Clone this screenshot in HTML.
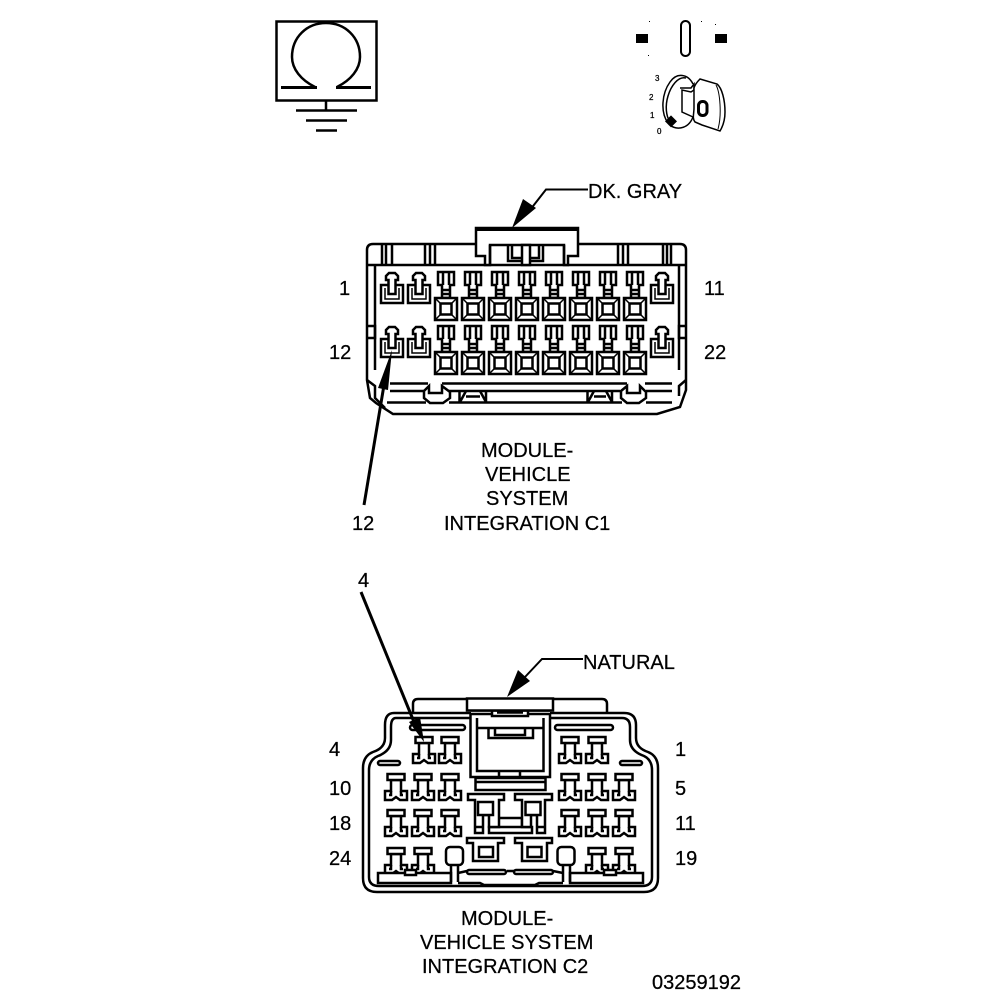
<!DOCTYPE html>
<html>
<head>
<meta charset="utf-8">
<style>
html,body{margin:0;padding:0;background:#fff;width:1008px;height:1000px;overflow:hidden}
svg{display:block}
text{font-family:"Liberation Sans",sans-serif;font-size:20px;fill:#000;stroke:#000;stroke-width:.25px}
.s{fill:none;stroke:#000;stroke-width:2.5}
.t{fill:none;stroke:#000;stroke-width:1.5}
.w{fill:#fff;stroke:#000;stroke-width:2.5}
</style>
</head>
<body>
<svg width="1008" height="1000" viewBox="0 0 1008 1000" xmlns="http://www.w3.org/2000/svg">
<defs>
<g id="big">
  <path class="w" d="M4 0H20V13H16V26H8V13H4Z"/>
  <path class="s" d="M9 0V13M15 0V13M8 18H16M8 22H16" stroke-width="2"/>
  <rect class="w" x="1" y="26" width="22" height="22"/>
  <rect class="s" x="6.500" y="31.500" width="11" height="11"/>
  <path class="t" d="M1 26L6.500 31.500M23 26L17.500 31.500M1 48L6.500 42.500M23 48L17.500 42.500"/>
</g>
<g id="small">
  <path class="w" d="M0 13H22V31H0Z"/>
  <path class="t" d="M4 16V27H18V16"/>
  <path class="w" d="M8 1H14L17 4V8H14.500V22H7.500V8H5V4Z"/>
</g>
<g id="t2">
  <path class="w" d="M-5 6V17H-11V26H-4L0 23L4 26H11V17H5V6Z" stroke-width="3"/>
  <rect class="w" x="-8.500" y="0" width="17" height="6" stroke-width="3"/>
  <path class="s" d="M-5 17V21H-7M5 17V21H7" stroke-width="2"/>
</g>
</defs>

<!-- Ground / ohm symbol -->
<rect x="276.500" y="21.500" width="100" height="79" fill="none" stroke="#000" stroke-width="2.500"/>
<path d="M315 87C301 80 292 69 292 57C292 37 307 23 326 23C345 23 360 37 360 57C360 69 351 80 337 87" fill="none" stroke="#000" stroke-width="2.500"/>
<path d="M281 87.500H317M336 87.500H371" stroke="#000" stroke-width="3" fill="none"/>
<path d="M326 100V110M296 110.500H357M306 120.500H347M316 130.500H337" stroke="#000" stroke-width="2.500" fill="none"/>

<!-- Key switch symbol -->
<rect x="636" y="34" width="12" height="9" fill="#000"/>
<rect x="715" y="34" width="12" height="9" fill="#000"/>
<rect x="681" y="21" width="9" height="35" rx="4.500" fill="#fff" stroke="#000" stroke-width="2"/>
<rect x="649" y="21" width="1" height="1"/><rect x="701" y="21" width="1" height="1"/><rect x="715" y="24" width="1" height="1"/><rect x="648" y="55" width="1" height="1"/>
<path d="M693 84C688 74 677 72 670 82C662 93 660 112 668 123C674 131 688 130 693 117" fill="none" stroke="#000" stroke-width="1.500"/>
<path d="M686 78C678 76 671 86 668 96C665 106 666 116 670 122" fill="none" stroke="#000" stroke-width="1.500"/>
<path d="M680 88H691L694 84V90L691 92L682 90V112L693 117" fill="none" stroke="#000" stroke-width="1.500"/>
<path d="M694 88C695 84 698 81 700 79L717 84C722 88 725 100 725 112C725 120 723 126 720 131L702 125L695 122C692 118 694 114 694 108Z" fill="#fff" stroke="#000" stroke-width="1.500"/>
<path d="M716 85C720 92 722 115 718 129" fill="none" stroke="#000" stroke-width="1"/>
<rect x="698.500" y="101.500" width="8.500" height="14" rx="4" fill="none" stroke="#000" stroke-width="3"/>
<rect x="667" y="117" width="8.500" height="8.500" fill="#000" transform="rotate(45 671 121)"/>
<text x="655" y="81" style="font-size:8px">3</text>
<text x="649" y="100" style="font-size:8px">2</text>
<text x="650" y="118" style="font-size:8px">1</text>
<text x="657" y="134" style="font-size:8px">0</text>

<!-- C1 connector -->
<path class="s" d="M367 250Q367 244 373 244H680Q686 244 686 250V390L680 407L657 414H393L376 403L370 398L367 380Z"/>
<path class="s" d="M367 265H686M375 265V370M679 265V370M367 380L375 386V398L385 408M686 380L679 386V396"/>
<path class="s" d="M367 326H375V338H367M686 326H679V338H686"/>
<path class="s" d="M382 244V264M386 244V264M392 244V264M425 244V264M430 244V264M435 244V264M618 244V264M623 244V264M628 244V264M663 244V264M667 244V264M671 244V264" stroke-width="2"/>
<path class="w" d="M476 228H578V256H568V265H564V245H490V265H485V256H476Z"/>
<path class="s" d="M490 245V265M564 245V265" />
<path class="s" d="M508 245V261H522M543 245V261H530M512 245V258H522M539 245V258H530" stroke-width="1.500"/>
<rect x="522" y="245" width="8" height="20" class="w"/>
<rect x="476" y="228" width="102" height="3" fill="#000"/>

<use href="#small" x="381" y="272"/>
<use href="#small" x="408" y="272"/>
<use href="#small" x="651" y="272"/>
<use href="#small" x="381" y="326"/>
<use href="#small" x="408" y="326"/>
<use href="#small" x="651" y="326"/>

<use href="#big" x="434" y="272"/><use href="#big" x="461" y="272"/><use href="#big" x="488" y="272"/><use href="#big" x="515" y="272"/><use href="#big" x="542" y="272"/><use href="#big" x="569" y="272"/><use href="#big" x="596" y="272"/><use href="#big" x="623" y="272"/>
<use href="#big" x="434" y="326"/><use href="#big" x="461" y="326"/><use href="#big" x="488" y="326"/><use href="#big" x="515" y="326"/><use href="#big" x="542" y="326"/><use href="#big" x="569" y="326"/><use href="#big" x="596" y="326"/><use href="#big" x="623" y="326"/>

<path class="s" d="M390 383.500H428M442 383.500H627M645 383.500H672" stroke-width="3"/>
<path class="s" d="M390 391H424M448 391H620M646 391H672M387 402.500H426M449 402.500H622M646 402.500H672" stroke-width="2"/>
<path class="w" d="M424 391L429 386V393H442V386L450 392V398L443 403H430L424 398Z" stroke-width="2"/>
<path class="w" d="M621 391L627 386V393H640V386L646 392V398L639 403H627L621 398Z" stroke-width="2"/>
<path class="s" d="M459.500 391V403M486 391V403M587.500 391V403M612 391V403M466 391L460 402M480 391L486 402M594 391L588 402M606 391L612 402M466 396.500H480M594 396.500H606" stroke-width="2"/>

<!-- C1 arrows and labels -->
<path d="M588 189.500H546L530 210" fill="none" stroke="#000" stroke-width="2"/>
<path d="M523 199L536 208L512 228Z" fill="#000"/>
<text x="588" y="198">DK. GRAY</text>
<text x="339" y="295">1</text>
<text x="704" y="295">11</text>
<text x="329" y="359">12</text>
<text x="704" y="359">22</text>
<path d="M364 505L384 385" stroke="#000" stroke-width="3" fill="none"/>
<path d="M378 388L388 390L392 350Z" fill="#000"/>
<text x="352" y="530">12</text>
<text x="481" y="457">MODULE-</text>
<text x="485" y="481">VEHICLE</text>
<text x="486" y="505">SYSTEM</text>
<text x="444" y="530">INTEGRATION C1</text>

<!-- C2 connector -->
<path class="s" d="M413 712V704Q413 699 418 699H602Q607 699 607 704V712" stroke-width="2"/>
<path class="s" d="M394 713H624Q636 713 636 725V738Q636 748 648 752Q658 756 658 768V878Q658 892 644 892H377Q363 892 363 878V768Q363 756 373 752Q385 748 385 738V725Q385 713 394 713Z" stroke-width="3"/>
<path class="s" d="M396 718H622Q630 718 630 727V740Q630 751 644 756Q652 760 652 770V877Q652 886 642 886H379Q369 886 369 877V770Q369 760 378 756Q391 751 391 740V727Q391 718 396 718Z" stroke-width="2"/>
<rect x="471" y="712" width="79" height="65" fill="#fff"/>
<path class="s" d="M470.500 714V777H550V714M477 718V771H543.500V718M477 728H543.500"/>
<path class="s" d="M470 714H492M528 714H550" stroke-width="3"/>
<path class="s" d="M488.500 728V738H533V728M495 729V735H525V729"/>
<path class="s" d="M499 771V777M520 771V777" stroke-width="1.500"/>
<rect x="467" y="698.500" width="86" height="12" class="w" stroke-width="3"/>
<path class="s" d="M492 710V716H528V710M497 712.500H523"/>
<rect x="475.500" y="778" width="70" height="12" class="w"/>
<path class="s" d="M476 782H545" stroke-width="1.500"/>
<rect x="410" y="725" width="55" height="5" rx="2.500" class="s"/>
<rect x="555" y="725" width="58" height="5" rx="2.500" class="s"/>
<rect x="378" y="761" width="22" height="4" rx="2" class="s"/>
<rect x="620" y="761" width="22" height="4" rx="2" class="s"/>

<use href="#t2" x="424" y="737"/><use href="#t2" x="450" y="737"/><use href="#t2" x="570" y="737"/><use href="#t2" x="597" y="737"/>
<use href="#t2" x="396" y="774"/><use href="#t2" x="423" y="774"/><use href="#t2" x="450" y="774"/><use href="#t2" x="570" y="774"/><use href="#t2" x="597" y="774"/><use href="#t2" x="624" y="774"/>
<use href="#t2" x="396" y="810"/><use href="#t2" x="423" y="810"/><use href="#t2" x="450" y="810"/><use href="#t2" x="570" y="810"/><use href="#t2" x="597" y="810"/><use href="#t2" x="624" y="810"/>
<use href="#t2" x="396" y="848"/><use href="#t2" x="423" y="848"/><use href="#t2" x="597" y="848"/><use href="#t2" x="624" y="848"/>

<!-- C2 centre pieces -->
<path class="w" d="M498 818H522V828H498Z"/>
<path class="w" d="M489 827H532V833H489Z"/>
<path class="w" d="M468 794H504V800H499V827H489V815H483V833H475V800H468Z"/>
<path class="s" d="M475 827H483" stroke-width="2"/>
<rect x="478" y="802" width="15" height="13" class="w"/>
<path class="w" d="M515 794H552V800H545V833H537V815H531V827H522V800H515Z"/>
<path class="s" d="M537 827H545" stroke-width="2"/>
<rect x="525.500" y="802" width="15" height="13" class="w"/>
<path class="w" d="M467 838H504V843H498V861H473V843H467Z"/>
<rect x="479" y="847" width="14" height="10" class="s"/>
<path class="w" d="M515 838H552V843H547V861H522V843H515Z"/>
<rect x="527.500" y="847" width="14" height="10" class="s"/>

<!-- C2 bottom base -->
<path class="w" d="M378 873H451V883H378Z" stroke-width="2"/>
<rect x="405" y="870" width="11" height="5" class="w" stroke-width="2"/>
<path class="w" d="M570 873H643V883H570Z" stroke-width="2"/>
<rect x="604" y="870" width="12" height="5" class="w" stroke-width="2"/>
<path class="s" d="M451 862V882M458 862V882M458 883H480L484 885H535L539 883H563M570 862V882M563 862V882" stroke-width="2"/>
<path class="s" d="M458 873L467 871M507 871H514M553 871L563 873" stroke-width="2"/>
<rect x="467" y="870" width="39" height="4" rx="2" class="w" stroke-width="2"/>
<rect x="514" y="870" width="39" height="4" rx="2" class="w" stroke-width="2"/>
<rect x="446" y="847" width="17" height="18" rx="4" class="w"/>
<rect x="557.500" y="847" width="17" height="18" rx="4" class="w"/>

<!-- C2 arrows and labels -->
<path d="M583 659H542L525 677" fill="none" stroke="#000" stroke-width="2"/>
<path d="M518 670L530 681L507 697Z" fill="#000"/>
<text x="583" y="669">NATURAL</text>
<path d="M361 592L414 722" stroke="#000" stroke-width="3" fill="none"/>
<path d="M409 722L420 717L424 742Z" fill="#000"/>
<text x="358" y="587">4</text>
<text x="329" y="756">4</text>
<text x="675" y="756">1</text>
<text x="329" y="795">10</text>
<text x="675" y="795">5</text>
<text x="329" y="830">18</text>
<text x="675" y="830">11</text>
<text x="329" y="865">24</text>
<text x="675" y="865">19</text>
<text x="461" y="925">MODULE-</text>
<text x="420" y="949">VEHICLE SYSTEM</text>
<text x="422" y="973">INTEGRATION C2</text>
<text x="652" y="989">03259192</text>
</svg>
</body>
</html>
